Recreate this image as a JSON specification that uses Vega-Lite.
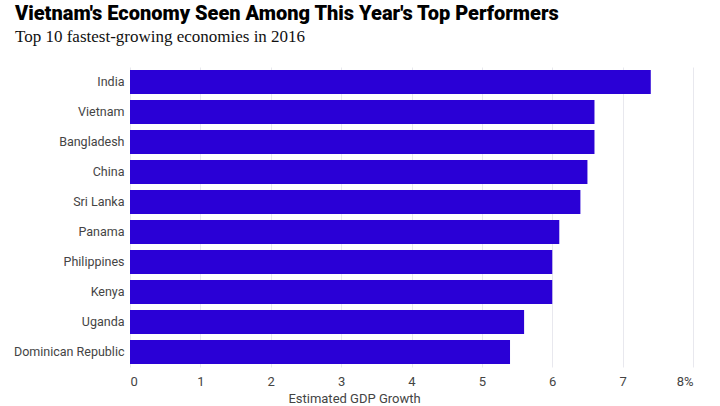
{
  "$schema": "https://vega.github.io/schema/vega-lite/v6.json",
  "width": 563,
  "height": 300,
  "autosize": {"type": "none"},
  "padding": {"left": 130, "top": 67, "right": 27, "bottom": 39},
  "background": "white",
  "title": {
    "text": "Vietnam's Economy Seen Among This Year's Top Performers",
    "subtitle": "Top 10 fastest-growing economies in 2016",
    "anchor": "start",
    "frame": "group",
    "dx": -115,
    "offset": 22,
    "font": "Roboto",
    "fontSize": 20,
    "fontWeight": 900,
    "color": "#000000",
    "subtitleFont": "Liberation Serif",
    "subtitleFontSize": 17,
    "subtitleColor": "#111111",
    "subtitlePadding": 5
  },
  "data": {
    "values": [
      {"country": "India", "growth": 7.4},
      {"country": "Vietnam", "growth": 6.6},
      {"country": "Bangladesh", "growth": 6.6},
      {"country": "China", "growth": 6.5},
      {"country": "Sri Lanka", "growth": 6.4},
      {"country": "Panama", "growth": 6.1},
      {"country": "Philippines", "growth": 6.0},
      {"country": "Kenya", "growth": 6.0},
      {"country": "Uganda", "growth": 5.6},
      {"country": "Dominican Republic", "growth": 5.4}
    ]
  },
  "mark": {"type": "bar", "color": "#2a00d6"},
  "encoding": {
    "y": {
      "field": "country",
      "type": "nominal",
      "sort": null,
      "scale": {"paddingInner": 0.2, "paddingOuter": 0.1},
      "axis": {
        "title": null,
        "domain": false,
        "ticks": false,
        "labelPadding": 6,
        "labelFont": "Roboto",
        "labelFontSize": 12.5,
        "labelColor": "#444444",
        "labelLimit": 200
      }
    },
    "x": {
      "field": "growth",
      "type": "quantitative",
      "scale": {"domain": [0, 8], "nice": false},
      "axis": {
        "title": "Estimated GDP Growth",
        "titleFont": "Roboto",
        "titleFontSize": 13,
        "titleFontWeight": "normal",
        "titleColor": "#444444",
        "titlePadding": 4,
        "titleX": 224,
        "titleAlign": "center",
        "titleAnchor": null,
        "values": [0, 1, 2, 3, 4, 5, 6, 7, 8],
        "labelExpr": "datum.value == 8 ? '8%' : datum.label",
        "labelFont": "Roboto",
        "labelFontSize": 13,
        "labelColor": "#444444",
        "labelPadding": 8,
        "domain": false,
        "ticks": false,
        "grid": true,
        "gridColor": "#e8e8ee",
        "gridWidth": 1
      }
    }
  },
  "config": {"view": {"stroke": null}}
}
